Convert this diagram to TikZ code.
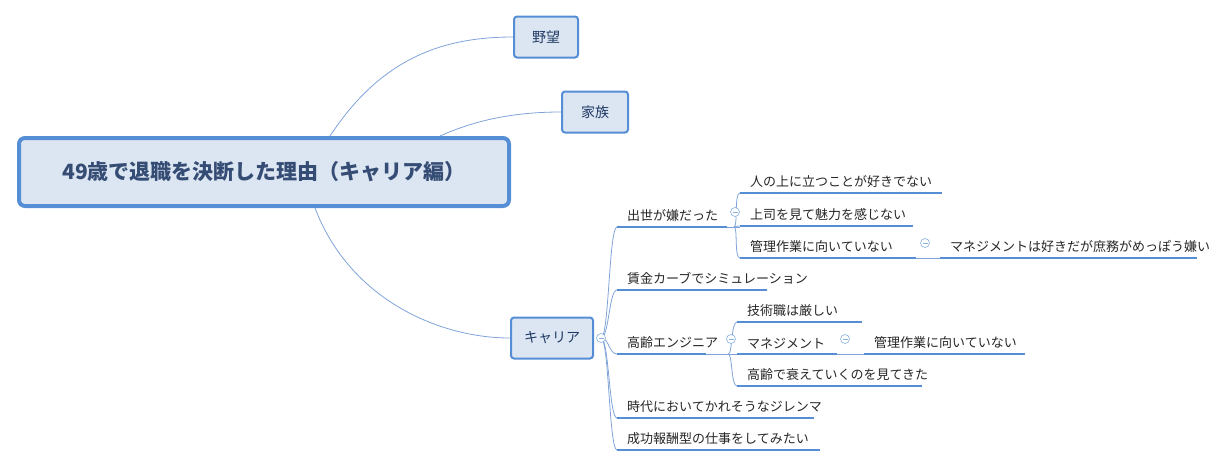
\documentclass[tikz,border=0pt]{standalone}
\usepackage{fontspec}
\newfontfamily\cjk{Noto Sans CJK JP}
\usetikzlibrary{positioning,calc}
\definecolor{mapblue}{HTML}{558ED5}
\definecolor{mapfill}{HTML}{DCE6F2}
\definecolor{mapink}{HTML}{1F3864}
\definecolor{linkblue}{HTML}{7FA3D8}
\tikzset{
  box/.style={draw=mapblue, line width=2pt, fill=mapfill, rounded corners=3pt,
    text=mapink, font=\cjk\fontsize{14}{16}\selectfont, minimum height=41pt},
  root/.style={box, line width=4pt, rounded corners=6pt, minimum width=490pt,
    minimum height=68pt, font=\cjk\bfseries\fontsize{21}{24}\selectfont, text=mapink!90},
  topic/.style={anchor=south west, inner xsep=10pt, inner ysep=5pt, align=left,
    font=\cjk\fontsize{13}{15}\selectfont, text=black!85},
  w/.style={text width=#1pt-20pt},
  uline/.style={draw=mapblue, line width=2.6pt},
  link/.style={draw=linkblue, line width=0.8pt},
  fold/.style={circle, draw=mapblue!70, fill=white, inner sep=0pt, minimum size=9pt,
    line width=0.6pt, path picture={\draw[mapblue!70] ([xshift=-2.5pt]path picture bounding box.center) -- ([xshift=2.5pt]path picture bounding box.center);}}
}
\begin{document}
\begin{tikzpicture}[x=1pt, y=-1pt]
    \useasboundingbox (0,0) rectangle (1215,467);

    % main topics
    \node[root] (main) at (264,172) {49歳で退職を決断した理由（キャリア編）};
    \node[box, minimum width=64pt] (yabou) at (546,37) {野望};
    \node[box, minimum width=66pt] (kazoku) at (595,112) {家族};
    \node[box, minimum width=82pt] (career) at (552,338) {キャリア};

    \draw[link] ([xshift=66pt]main.north) .. controls (380,60) and (440,37) .. (yabou.west);
    \draw[link] ([xshift=176pt]main.north) .. controls (480,118) and (520,112) .. (kazoku.west);
    \draw[link] ([xshift=51pt]main.south) .. controls (350,300) and (440,338) .. (career.west);

    % subtopics of career
    \node[topic, w=110] (shusse) at (617,227) {出世が嫌だった};
    \node[topic, w=150] (chingin) at (617,290) {賃金カーブでシミュレーション};
    \node[topic, w=89] (kourei) at (617,354) {高齢エンジニア};
    \node[topic, w=197] (jidai) at (617,418) {時代においてかれそうなジレンマ};
    \node[topic, w=203] (seikou) at (617,450) {成功報酬型の仕事をしてみたい};

    \foreach \n in {shusse,chingin,kourei,jidai,seikou}
        \draw[uline] (\n.south west) -- (\n.south east);
    \foreach \n in {shusse,chingin,kourei,jidai,seikou}
        \draw[link] (601,338) .. controls (609,338) and ($(\n.south west)+(-8,0)$) .. (\n.south west);
    \node[fold] (f0) at (601,338) {};

    % shusse
    \node[topic, w=202] (hito) at (740,193) {人の上に立つことが好きでない};
    \node[topic, w=173] (joushi) at (740,226) {上司を見て魅力を感じない};
    \node[topic, w=176] (kanri) at (740,258) {管理作業に向いていない};
    \node[topic, w=257] (mgmt) at (940,258) {マネジメントは好きだが庶務がめっぽう嫌い};

    % kourei
    \node[topic, w=125] (gijutsu) at (737,322) {技術職は厳しい};
    \node[topic, w=100] (manage) at (737,354) {マネジメント};
    \node[topic, w=161] (kanri2) at (864,354) {管理作業に向いていない};
    \node[topic, w=185] (otoroe) at (737,386) {高齢で衰えていくのを見てきた};

    \foreach \n in {hito,joushi,kanri,mgmt,gijutsu,manage,kanri2,otoroe}
        \draw[uline] (\n.south west) -- (\n.south east);

    \draw[link] (shusse.south east) -- (hito.south west |- shusse.south east);
    \foreach \n in {hito,joushi,kanri}
        \draw[link] ($(hito.south west |- shusse.south east)+(-6,0)$) .. controls ($(hito.south west |- shusse.south east)+(-2,0)$) and ($(\n.south west)+(-6,0)$) .. (\n.south west);
    \draw[link] (kanri.south east) -- (mgmt.south west);

    \draw[link] (kourei.south east) -- (manage.south west);
    \foreach \n in {gijutsu,manage,otoroe}
        \draw[link] ($(kourei.south east)+(22,0)$) .. controls ($(kourei.south east)+(26,0)$) and ($(\n.south west)+(-6,0)$) .. (\n.south west);
    \draw[link] (manage.south east) -- (kanri2.south west);

    \node[fold] (f1) at (735,212) {};
    \node[fold] (f2) at (925,243) {};
    \node[fold] (f3) at (731,339) {};
    \node[fold] (f4) at (845,339) {};
\end{tikzpicture}
\end{document}
